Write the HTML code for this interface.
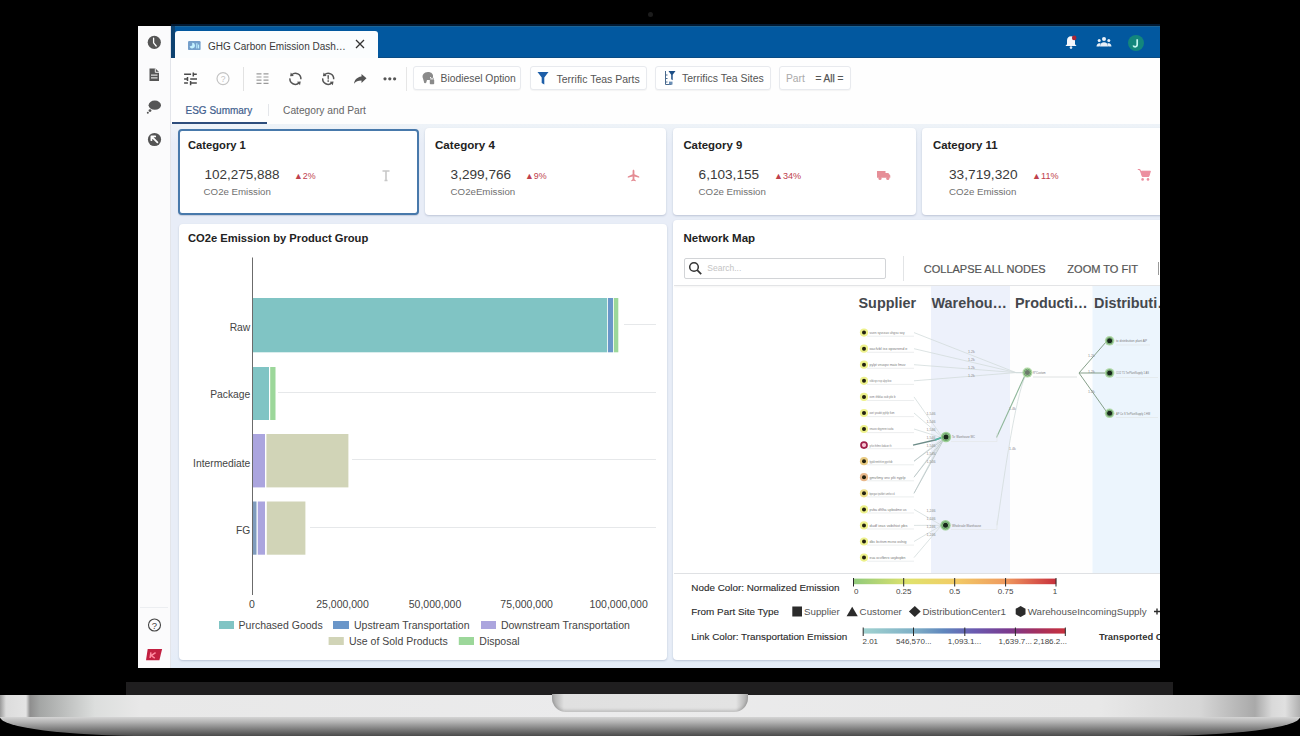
<!DOCTYPE html>
<html><head><meta charset="utf-8">
<style>
*{margin:0;padding:0;box-sizing:border-box}
html,body{width:1300px;height:736px;overflow:hidden;background:#000;font-family:"Liberation Sans",sans-serif}
.a{position:absolute;white-space:nowrap}
#scr{position:absolute;left:0;top:0;width:1300px;height:736px;clip-path:inset(26px 140px 68px 138px);background:#eef1f7}
#hinge{left:126px;top:682px;width:1047px;height:13px;background:#1f1e1f}
#band{left:0;top:695px;width:1300px;height:23px;background:linear-gradient(90deg,#9a9a9a 0,#dcdcdc 6px,#e4e4e4 26px,#8e8e8e 30px,#a4a6a5 40px,#b8bab9 60px,#dcdedd 95px,#e8e8e8 140px,#ebebec 600px,#e8e8e8 1100px,#d6d6d6 1200px,#a9a9a9 1255px,#d9d9d9 1272px,#e0e0e0 1285px,#b0b0b0 1300px)}
#foot{left:0;top:717px;width:1300px;height:19px;background:linear-gradient(180deg,#d4d4d4 0,#b4b4b4 5px,#7e7e7e 12px,#4a4a4a 19px);border-radius:0 0 150px 150px/0 0 19px 19px}
#notch{left:552px;top:694px;width:196px;height:18px;border-radius:0 0 14px 14px;background:linear-gradient(90deg,#a8a8a8 0,#e0e0e0 12px,#e3e3e3 184px,#a8a8a8 196px);box-shadow:inset 0 -2px 3px rgba(0,0,0,.15)}
.ct{top:137.6px;font-weight:bold;color:#222;line-height:14px}
.cn{top:166.8px;color:#3a3a3a;line-height:16px}
.cp{top:168.6px;color:#c0404c;line-height:14px}
.cl{top:184.5px;font-size:9.7px;color:#707070;line-height:14px}
</style></head><body>
<div class="a" id="hinge"></div>
<div class="a" style="left:648px;top:11.5px;width:5px;height:5px;border-radius:50%;background:#1c1c1c;filter:blur(.6px)"></div>
<div class="a" style="left:171px;top:24px;width:989px;height:2px;background:#021a33"></div>
<div class="a" id="band"></div>
<div class="a" id="foot"></div>
<div class="a" id="notch"></div>
<div id="scr">

<!-- sidebar -->
<div class="a" style="left:138px;top:26px;width:33px;height:642px;background:#fbfbfc;border-right:1px solid #e3e5ea"></div>
<svg class="a" style="left:138px;top:26px" width="33" height="642" viewBox="0 0 33 642">
 <g fill="#555">
  <circle cx="16.3" cy="16.3" r="6.6"/>
  <path d="M15.6 12.2 v4.6 l2.6 3.2" stroke="#fff" stroke-width="1.3" fill="none" stroke-linecap="round"/>
  <path d="M11.5 42.5 h6 l3.5 3.5 v9 h-9.5 z"/>
  <path d="M17.3 42.5 v3.8 h3.7" fill="none" stroke="#fff" stroke-width="0.9"/>
  <rect x="13" y="48.6" width="6.5" height="1" fill="#fff"/><rect x="13" y="51.4" width="6.5" height="1" fill="#fff"/>
  <ellipse cx="16.8" cy="79.2" rx="6.2" ry="4.6"/>
  <circle cx="12" cy="84.6" r="1.4"/>
  <circle cx="9.8" cy="86.8" r="1"/>
  <circle cx="16.5" cy="113.5" r="6.6"/>
  <path d="M13.4 110.4 l6 6 M13.4 110.4 h3.8 M13.4 110.4 v3.8" stroke="#fff" stroke-width="1.8" fill="none" stroke-linecap="round"/>
 </g>
 <path d="M2 581.5 H30" stroke="#eceef1" stroke-width="1"/>
 <circle cx="16.5" cy="599" r="6" fill="none" stroke="#444" stroke-width="1.1"/>
 <text x="16.5" y="602.6" font-size="9.5" text-anchor="middle" fill="#444" font-family="Liberation Sans">?</text>
 <path d="M9.7 623 H24.1 L21.4 634.3 H8 z" fill="#c21f40"/>
 <path d="M12.9 626.3 L12.1 632 M17.6 626.6 L13.2 629.6 L16.8 632.1" stroke="#ff8aa0" stroke-width="1.5" fill="none"/>
</svg>
<!-- header -->
<div class="a" style="left:171px;top:26px;width:989px;height:32px;background:#02589f"></div>
<div class="a" style="left:171px;top:26px;width:989px;height:1px;background:#1d6596"></div>
<div class="a" style="left:171px;top:57px;width:989px;height:1px;background:#0a4c84"></div>
<div class="a" style="left:171px;top:26px;width:4px;height:32px;background:#0d4270"></div>
<div class="a" style="left:175px;top:31px;width:202.5px;height:28px;background:#fbfdfe;border-radius:3px 3px 0 0"></div>
<svg class="a" style="left:187.5px;top:40.8px" width="13" height="9.2" viewBox="0 0 13 9.2"><rect width="12.6" height="9.2" rx="1.2" fill="#74a0cb"/><path d="M4.2 4.6 L4.2 1.8 A2.8 2.8 0 1 1 1.6 5.6z" fill="#c4f2ff"/><rect x="8.3" y="2.2" width="1.1" height="5.2" fill="#bdf0ff"/><rect x="10" y="3.6" width="1.1" height="3.8" fill="#bdf0ff"/></svg>
<div class="a" style="left:208px;top:39.8px;font-size:10px;color:#3a3a3a;line-height:14px">GHG Carbon Emission Dash…</div>
<svg class="a" style="left:354px;top:38px" width="12" height="12"><path d="M2 2 L10 10 M10 2 L2 10" stroke="#333" stroke-width="1.3"/></svg>
<svg class="a" style="left:1063px;top:34px" width="16" height="16" viewBox="0 0 16 16">
 <path d="M8 2.3 c-2.5 0 -4 1.9 -4 4.3 v3.6 l-1.6 1.9 h11.2 l-1.6 -1.9 v-3.6 c0 -2.4 -1.5 -4.3 -4 -4.3z" fill="#f4f6fa"/>
 <circle cx="8" cy="13.6" r="1.3" fill="#dfe8f4"/>
 <circle cx="11.2" cy="3.9" r="2.3" fill="#a82535"/>
</svg>
<svg class="a" style="left:1095px;top:36px" width="18" height="12" viewBox="0 0 18 12">
 <g fill="#e8f0f8"><circle cx="9" cy="3" r="2"/><circle cx="4.2" cy="4.6" r="1.5"/><circle cx="13.8" cy="4.6" r="1.5"/>
 <path d="M5 10.5 c0-3 2-4.3 4-4.3 s4 1.3 4 4.3z"/><path d="M1.5 10.5 c0-2 1.3-3.3 2.7-3.3 c.6 0 1 .1 1.4 .4 l-.9 2.9z"/><path d="M16.5 10.5 c0-2 -1.3-3.3 -2.7-3.3 c-.6 0 -1 .1 -1.4 .4 l.9 2.9z"/></g>
</svg>
<div class="a" style="left:1128px;top:34.5px;width:16px;height:16px;border-radius:50%;background:#13867c"></div>
<svg class="a" style="left:1128px;top:34.5px" width="16" height="16" viewBox="0 0 16 16"><path d="M9.2 4.2 V9.6 c0 1.4 -.8 2.2 -2 2.2 c-1 0 -1.7 -.5 -2 -1.3" fill="none" stroke="#c4f6f0" stroke-width="1.7"/></svg>
<!-- toolbar -->
<div class="a" style="left:171px;top:58px;width:989px;height:66px;background:#fefefe"></div>
<svg class="a" style="left:178px;top:64px" width="232" height="30" viewBox="0 0 232 30">
 <g stroke="#4a4a4a" stroke-width="1.5">
  <path d="M6.1 10.3 h7 M15.3 10.3 h3.5 M15.3 8.4 v4"/>
  <path d="M6.1 14.9 h2.7 M12.2 14.9 h6.8 M9.5 12.9 v4"/>
  <path d="M6.1 19.1 h3.8 M12.6 19.1 h6.2 M12.6 17.1 v4.2"/>
 </g>
 <circle cx="45" cy="14.6" r="6" fill="none" stroke="#c4c4c4" stroke-width="1.2"/>
 <text x="45" y="17.6" font-size="8.5" text-anchor="middle" fill="#c4c4c4" font-family="Liberation Sans">?</text>
 <path d="M65.5 3 v24" stroke="#e2e2e2" stroke-width="1"/>
 <g stroke="#9a9a9a" stroke-width="1.2">
  <path d="M78.5 9.8 h5 M85.5 9.8 h5 M78.5 13 h5 M85.5 13 h5 M78.5 16.2 h5 M85.5 16.2 h5 M78.5 19.4 h5 M85.5 19.4 h5"/>
 </g>
 <path d="M113.72 10.71 A5.5 5.5 0 0 1 122.88 15.28 M121.08 18.89 A5.5 5.5 0 0 1 111.92 14.32" fill="none" stroke="#555" stroke-width="1.5"/><path d="M112.08 12.18 L112.78 8.47 L115.85 11.89z" fill="#555"/><path d="M122.72 17.42 L122.02 21.13 L118.95 17.71z" fill="#555"/>
 <path d="M146.52 10.71 A5.5 5.5 0 0 1 155.68 15.28 M153.88 18.89 A5.5 5.5 0 0 1 144.72 14.32" fill="none" stroke="#555" stroke-width="1.5"/><path d="M144.88 12.18 L145.58 8.47 L148.65 11.89z" fill="#555"/><path d="M155.52 17.42 L154.82 21.13 L151.75 17.71z" fill="#555"/>
 <g fill="#555">
  <path d="M149.4 11.2 h1.6 l-.3 4.2 h-1z"/>
  <rect x="149.45" y="16.3" width="1.5" height="1.5"/>
  <path d="M188.5 14.3 l-5 -4.4 v2.6 c-5 .6 -7 3.8 -7.5 7.3 c1.8 -2.4 4 -3.4 7.5 -3.4 v2.7z"/>
  <circle cx="207" cy="14.8" r="1.6"/><circle cx="211.8" cy="14.8" r="1.6"/><circle cx="216.6" cy="14.8" r="1.6"/>
 </g>
 <path d="M228.5 3 v24" stroke="#e6e6e6" stroke-width="1"/>
</svg>
<!-- filter buttons -->
<div class="a" style="left:413px;top:66px;width:108px;height:24px;border:1px solid #e8eaee;border-radius:3px;background:#fff;box-shadow:0 1px 1px rgba(0,0,0,.04)"></div>
<div class="a" style="left:530px;top:66px;width:117px;height:24px;border:1px solid #e8eaee;border-radius:3px;background:#fff;box-shadow:0 1px 1px rgba(0,0,0,.04)"></div>
<div class="a" style="left:655px;top:66px;width:116px;height:24px;border:1px solid #e8eaee;border-radius:3px;background:#fff;box-shadow:0 1px 1px rgba(0,0,0,.04)"></div>
<div class="a" style="left:779px;top:66px;width:72px;height:24px;border:1px solid #e8eaee;border-radius:3px;background:#fff;box-shadow:0 1px 1px rgba(0,0,0,.04)"></div>
<svg class="a" style="left:420px;top:70px" width="16" height="16" viewBox="0 0 16 16">
 <path d="M3 8.5 c-1.5-3.5 1-6.5 5-6.5 c3.5 0 5.5 2.3 5 5 h-3 v3 h-3 c-.5 1 -.2 2.3 -1.3 3 c-.8 .5 -2 0 -1.7-1z" fill="#8a8a8a"/>
 <rect x="9.8" y="9.6" width="4.4" height="4.6" rx=".8" fill="#8a8a8a"/>
 <path d="M10.8 9.8 v-1.2 a1.2 1.2 0 0 1 2.4 0 v1.2" fill="none" stroke="#8a8a8a" stroke-width="1"/>
</svg>
<div class="a" style="left:440.5px;top:71.8px;font-size:10.35px;color:#555;line-height:14px">Biodiesel Option</div>
<svg class="a" style="left:536px;top:70px" width="14" height="16" viewBox="0 0 14 16"><path d="M1.5 2 h11 l-4.2 5.6 v7 l-2.6 -1.6 v-5.4z" fill="#1d5ea8"/></svg>
<div class="a" style="left:556.5px;top:71.8px;font-size:10.5px;color:#555;line-height:14px">Terrific Teas Parts</div>
<svg class="a" style="left:663px;top:69px" width="14" height="18" viewBox="0 0 14 18">
 <path d="M2.5 2 v13.5 h6 M2.5 6 h2 M2.5 9.5 h2 M2.5 13 h2" stroke="#4a6a8e" stroke-width="1" fill="none"/>
 <path d="M5.5 2 h7 l-2.8 3.8 v5.4 l-1.5 -1 v-4.4z" fill="#1d4e86"/>
 <rect x="6" y="12.6" width="3.5" height="3" fill="#6a8eb5"/>
</svg>
<div class="a" style="left:682px;top:71.8px;font-size:10.47px;color:#555;line-height:14px">Terrifics Tea Sites</div>
<div class="a" style="left:786px;top:71.8px;font-size:10.3px;color:#aaa;line-height:14px">Part</div>
<div class="a" style="left:815.5px;top:71.6px;font-size:10px;color:#555;line-height:14px;-webkit-text-stroke:.25px #555">= All =</div>

<!-- content bg -->
<div class="a" style="left:171px;top:124px;width:989px;height:544px;background:linear-gradient(180deg,#eef3f8 0,#e8edf7 20px,#e8edf7 520px,#e4edf8 544px)"></div>
<!-- cards -->
<div class="a" style="left:178px;top:128.5px;width:240.5px;height:86px;background:#fff;border:2px solid #4879ab;border-radius:4px;box-shadow:0 1px 1px rgba(60,80,120,.2)"></div>
<div class="a" style="left:424.5px;top:128px;width:241.5px;height:87px;background:#fff;border-radius:4px;box-shadow:0 1px 2px rgba(60,80,120,.25)"></div>
<div class="a" style="left:673px;top:128px;width:243px;height:87px;background:#fff;border-radius:4px;box-shadow:0 1px 2px rgba(60,80,120,.25)"></div>
<div class="a" style="left:922px;top:128px;width:260px;height:87px;background:#fff;border-radius:4px;box-shadow:0 1px 2px rgba(60,80,120,.25)"></div>

<div class="a ct" style="left:188px;font-size:11.2px">Category 1</div>
<div class="a cn" style="left:204.4px;font-size:13.5px">102,275,888</div>
<div class="a cp" style="left:294px;font-size:8.9px">▲2%</div>
<div class="a cl" style="left:203.6px">CO2e Emission</div>

<div class="a ct" style="left:435px;font-size:11.6px">Category 4</div>
<div class="a cn" style="left:450.6px;font-size:13.6px">3,299,766</div>
<div class="a cp" style="left:525px;font-size:8.9px">▲9%</div>
<div class="a cl" style="left:450.6px">CO2eEmission</div>

<div class="a ct" style="left:683.4px;font-size:11.4px">Category 9</div>
<div class="a cn" style="left:698.6px;font-size:13.6px">6,103,155</div>
<div class="a cp" style="left:774px;font-size:9.1px">▲34%</div>
<div class="a cl" style="left:698.6px">CO2e Emission</div>

<div class="a ct" style="left:933px;font-size:11.4px">Category 11</div>
<div class="a cn" style="left:949px;font-size:13.7px">33,719,320</div>
<div class="a cp" style="left:1032px;font-size:9.1px">▲11%</div>
<div class="a cl" style="left:949px">CO2e Emission</div>

<svg class="a" style="left:381px;top:169px" width="10" height="13" viewBox="0 0 10 13"><path d="M1.5 2 h7 M5 2 v9.5 M3.5 11.5 h3" stroke="#c8c8c8" stroke-width="1.6" fill="none"/></svg>
<svg class="a" style="left:627px;top:169px" width="13" height="13" viewBox="0 0 13 13"><path d="M6.5 0.8 c.6 0 .9 .6 .9 1.4 v3 l4.8 2.3 v1.2 l-4.8 -1.2 v2.8 l1.4 1.1 v.9 l-2.3 -.6 l-2.3 .6 v-.9 l1.4 -1.1 v-2.8 l-4.8 1.2 v-1.2 l4.8 -2.3 v-3 c0-.8 .3-1.4 .9-1.4z" fill="#e48b93"/></svg>
<svg class="a" style="left:876px;top:169px" width="15" height="12" viewBox="0 0 15 12"><path d="M1 2 h8.5 v6.8 h-8.5z M9.5 4 h2.8 l2 2.4 v2.4 h-4.8z" fill="#e68f98"/><circle cx="4" cy="9.4" r="1.6" fill="#e68f98"/><circle cx="11.8" cy="9.4" r="1.6" fill="#e68f98"/></svg>
<svg class="a" style="left:1137px;top:168px" width="14" height="14" viewBox="0 0 14 14"><path d="M0.8 1.5 h2.2 l2.3 7 h6.5 l1.6 -5.3 h-9.1" fill="#ec8fa0" stroke="#ec8fa0" stroke-width="1"/><path d="M4 3.2 h9 l-1.6 5.3 h-6z" fill="#ec8fa0"/><circle cx="5.6" cy="11.4" r="1.3" fill="#ec8fa0"/><circle cx="11" cy="11.4" r="1.3" fill="#ec8fa0"/></svg>

<!-- chart panel -->
<div class="a" style="left:178.5px;top:223.5px;width:488px;height:436.5px;background:#fff;border-radius:4px;box-shadow:0 1px 2px rgba(60,80,120,.25)"></div>
<div class="a" style="left:188px;top:231px;font-size:11.2px;font-weight:bold;color:#222;line-height:14px">CO2e Emission by Product Group</div>

<svg class="a" style="left:178px;top:250px" width="488" height="410" viewBox="178 250 488 410">
 <g stroke="#e6e8ea" stroke-width="1">
  <path d="M624 324.5 H656 M278 392.5 H656 M352 459.5 H656 M310 527.5 H656"/>
 </g>
 <rect x="252.5" y="298" width="354.7" height="54.3" fill="#80c4c4"/>
 <rect x="608" y="298" width="5" height="54.3" fill="#6a96c9"/>
 <rect x="613.8" y="298" width="4.5" height="54.3" fill="#9cd79a"/>
 <rect x="252.5" y="367" width="16.5" height="53" fill="#80c4c4"/>
 <rect x="270.2" y="367" width="5.3" height="53" fill="#9cd79a"/>
 <rect x="252.5" y="434" width="12.5" height="53.4" fill="#aba5de"/>
 <rect x="266.4" y="434" width="82" height="53.4" fill="#d1d4b7"/>
 <rect x="252.5" y="501.5" width="4" height="53.2" fill="#7f9cbd"/>
 <rect x="257.8" y="501.5" width="7.2" height="53.2" fill="#aba5de"/>
 <rect x="266.8" y="501.5" width="38.6" height="53.2" fill="#d1d4b7"/>
 <path d="M252.5 257.5 V595" stroke="#6b6b6b" stroke-width="1"/>
 <g font-family="Liberation Sans" font-size="10.3" fill="#444" text-anchor="end">
  <text x="250.3" y="330.8">Raw</text>
  <text x="250.3" y="398.3">Package</text>
  <text x="250.3" y="466.6">Intermediate</text>
  <text x="250.3" y="534">FG</text>
 </g>
 <g font-family="Liberation Sans" font-size="10.5" fill="#444" text-anchor="middle">
  <text x="252" y="608.2">0</text>
  <text x="342.5" y="608.2">25,000,000</text>
  <text x="435" y="608.2">50,000,000</text>
  <text x="526.6" y="608.2">75,000,000</text>
  <text x="618.6" y="608.2">100,000,000</text>
 </g>
 <rect x="219" y="621" width="15" height="8" fill="#80c4c4"/>
 <rect x="333" y="621" width="16" height="8" fill="#6a96c9"/>
 <rect x="481" y="621" width="15" height="8" fill="#aba5de"/>
 <rect x="328.6" y="637" width="15.2" height="8" fill="#d1d4b7"/>
 <rect x="458.8" y="637" width="15.2" height="8" fill="#9cd79a"/>
 <g font-family="Liberation Sans" font-size="10.5" fill="#444">
  <text x="238.6" y="628.6">Purchased Goods</text>
  <text x="354" y="628.6">Upstream Transportation</text>
  <text x="500.9" y="628.6">Downstream Transportation</text>
  <text x="349" y="644.8">Use of Sold Products</text>
  <text x="479.3" y="644.8">Disposal</text>
 </g>
</svg>
<!-- network panel -->
<div class="a" style="left:673px;top:220px;width:500px;height:440px;background:#fff;border-radius:4px;box-shadow:0 1px 2px rgba(60,80,120,.25)"></div>
<div class="a" style="left:683.5px;top:231px;font-size:11.5px;font-weight:bold;color:#222;line-height:14px">Network Map</div>
<!-- page tabs -->
<div class="a" style="left:185.5px;top:103.8px;font-size:10px;color:#42608e;line-height:14px;-webkit-text-stroke:.2px #42608e">ESG Summary</div>
<div class="a" style="left:267.5px;top:104px;width:1px;height:12px;background:#e4e6ea"></div>
<div class="a" style="left:283px;top:104px;font-size:10.23px;color:#666;line-height:14px">Category and Part</div>
<div class="a" style="left:172px;top:122px;width:95px;height:2px;background:#2d4d7c"></div>

<!-- network toolbar -->
<div class="a" style="left:683.5px;top:258px;width:202px;height:20.5px;border:1px solid #d2d4d7;border-radius:2px;background:#fff"></div>
<svg class="a" style="left:688px;top:261px" width="15" height="15" viewBox="0 0 15 15"><circle cx="6" cy="6" r="4.3" fill="none" stroke="#333" stroke-width="1.5"/><path d="M9.2 9.2 L13.2 13.2" stroke="#333" stroke-width="1.7"/></svg>
<div class="a" style="left:707.3px;top:262px;font-size:8.5px;color:#c4c4c4;line-height:12px">Search...</div>
<div class="a" style="left:902.5px;top:256px;width:1px;height:25px;background:#e2e4e6"></div>
<div class="a" style="left:923.8px;top:261.8px;font-size:11px;color:#555;line-height:14px;-webkit-text-stroke:.2px #555">COLLAPSE ALL NODES</div>
<div class="a" style="left:1067.3px;top:261.8px;font-size:11.05px;color:#555;line-height:14px;-webkit-text-stroke:.2px #555">ZOOM TO FIT</div>
<div class="a" style="left:1158px;top:262px;width:1px;height:13px;background:#999"></div>
<div class="a" style="left:674px;top:285px;width:490px;height:1px;background:#e3e4e6;box-shadow:0 1px 2px rgba(0,0,0,.06)"></div>
<svg class="a" style="left:674px;top:286px" width="486" height="288" viewBox="674 286 486 288">
<rect x="931" y="286" width="79" height="288" fill="#edf1fb"/>
<rect x="1010" y="286" width="82.5" height="288" fill="#fefefe"/>
<rect x="1092.5" y="286" width="68" height="288" fill="#ecf5fd"/>
<g font-family="Liberation Sans" font-weight="bold" font-size="14.4" fill="#45484d">
<text x="858.5" y="308">Supplier</text>
<text x="931.5" y="308">Warehou…</text>
<text x="1015" y="308">Producti…</text>
<text x="1094" y="308">Distributi…</text>
</g>
<g stroke="#e4e6e8" stroke-width="0.7" fill="none">
<path d="M867 336.2 H914"/>
<path d="M867 352.3 H914"/>
<path d="M867 368.3 H914"/>
<path d="M867 384.4 H914"/>
<path d="M867 400.5 H914"/>
<path d="M867 416.6 H914"/>
<path d="M867 432.6 H914"/>
<path d="M867 448.7 H914"/>
<path d="M867 464.8 H914"/>
<path d="M867 480.8 H914"/>
<path d="M867 496.9 H914"/>
<path d="M867 513.0 H914"/>
<path d="M867 529.0 H914"/>
<path d="M867 545.1 H914"/>
<path d="M867 561.2 H914"/>
</g>
<g stroke="#d3dcdc" stroke-width="0.8" fill="none">
<path d="M914 332.6 L1016 372.6 L1023 372.6"/>
<path d="M914 348.7 L1016 372.6 L1023 372.6"/>
<path d="M914 364.7 L1016 372.6 L1023 372.6"/>
<path d="M914 380.8 L1016 372.6 L1023 372.6"/>
<path d="M914 396.9 L943 438"/>
<path d="M914 413.0 L943 438"/>
<path d="M914 429.0 L943 438"/>
<path d="M914 461.2 L943 438"/>
<path d="M914 477.2 L943 438"/>
<path d="M914 493.3 L943 438"/>
<path d="M914 509.4 L941.5 525.3"/>
<path d="M914 525.4 L941.5 525.3"/>
<path d="M914 541.5 L941.5 525.3"/>
<path d="M914 557.6 L941.5 525.3"/>
<path d="M997 525.3 C1005 470 1015 400 1025.4 375.6"/>
</g>
<path d="M913 445.1 L935 440 L943 437" stroke="#6d8c88" stroke-width="1.4" fill="none"/>
<path d="M935 440 L943 437" stroke="#55b8a8" stroke-width="1.4" fill="none"/>
<path d="M914 461.2 L944 439" stroke="#b8c4c4" stroke-width="0.8" fill="none"/>
<path d="M914 477.2 L944 439" stroke="#b8c4c4" stroke-width="0.8" fill="none"/>
<path d="M914 493.3 L944 439" stroke="#b8c4c4" stroke-width="0.8" fill="none"/>
<path d="M996.5 437.5 L1024.4 376.6" stroke="#8fb79a" stroke-width="1.1" fill="none"/>
<path d="M1033 377 H1077" stroke="#d8dcdc" stroke-width="0.8"/>
<g stroke="#86a08a" stroke-width="1" fill="none">
<path d="M1079 373 L1106 342 M1079 373 H1106 M1079 373 L1106 411"/>
</g>
<path d="M1116 377.5 H1158 M1116 417.5 H1158 M1116 345 H1150" stroke="#e2e6e6" stroke-width="0.7"/>
<path d="M951 441.5 H997 M951 529.5 H997 M997 433 V441.5 M997 521 V529.5" stroke="#e4e6e8" stroke-width="0.7" fill="none"/>
<g font-family="Liberation Sans" font-size="3.6" fill="#8a8a8a">
<text x="968" y="352.7">1.2k</text>
<text x="968" y="361">1.2k</text>
<text x="968" y="369">1.2k</text>
<text x="968" y="377">1.2k</text>
<text x="926.5" y="415">1,546</text>
<text x="926.5" y="423">1,546</text>
<text x="926.5" y="431">1,546</text>
<text x="926.5" y="439">1,546</text>
<text x="926.5" y="447">1,546</text>
<text x="926.5" y="455">1,546</text>
<text x="926.5" y="463">1,546</text>
<text x="926.5" y="512">1,246</text>
<text x="926.5" y="520">1,246</text>
<text x="926.5" y="528">1,246</text>
<text x="926.5" y="536">1,246</text>
<text x="1009" y="450">1.4k</text><text x="1009" y="410">1.4k</text>
<text x="1088" y="357">1.2k</text><text x="1088" y="373">1.2k</text><text x="1088" y="393">1.2k</text>
</g>
<circle cx="864" cy="332.6" r="4.1" fill="#e9ee6e" opacity=".8"/>
<circle cx="864" cy="332.6" r="2" fill="#23220f"/>

<circle cx="864" cy="348.7" r="4.1" fill="#e9ee6e" opacity=".8"/>
<circle cx="864" cy="348.7" r="2" fill="#23220f"/>

<circle cx="864" cy="364.7" r="4.1" fill="#e9ee6e" opacity=".8"/>
<circle cx="864" cy="364.7" r="2" fill="#23220f"/>

<circle cx="864" cy="380.8" r="4.1" fill="#e9ee6e" opacity=".8"/>
<circle cx="864" cy="380.8" r="2" fill="#23220f"/>

<circle cx="864" cy="396.9" r="4.1" fill="#e9ee6e" opacity=".8"/>
<circle cx="864" cy="396.9" r="2" fill="#23220f"/>

<circle cx="864" cy="413.0" r="4.1" fill="#e9ee6e" opacity=".8"/>
<circle cx="864" cy="413.0" r="2" fill="#23220f"/>

<circle cx="864" cy="429.0" r="4.1" fill="#e9ee6e" opacity=".8"/>
<circle cx="864" cy="429.0" r="2" fill="#23220f"/>

<circle cx="864" cy="445.1" r="3" fill="#f6c4d2" stroke="#a01e48" stroke-width="1.7"/>
<circle cx="864" cy="461.2" r="4.1" fill="#e2bd62" opacity=".8"/>
<circle cx="864" cy="461.2" r="2" fill="#23220f"/>

<circle cx="864" cy="477.2" r="4.1" fill="#e4a66e" opacity=".8"/>
<circle cx="864" cy="477.2" r="2" fill="#23220f"/>

<circle cx="864" cy="493.3" r="4.1" fill="#e6d46a" opacity=".8"/>
<circle cx="864" cy="493.3" r="2" fill="#23220f"/>

<circle cx="864" cy="509.4" r="4.1" fill="#e9ee6e" opacity=".8"/>
<circle cx="864" cy="509.4" r="2" fill="#23220f"/>

<circle cx="864" cy="525.4" r="4.1" fill="#e9ee6e" opacity=".8"/>
<circle cx="864" cy="525.4" r="2" fill="#23220f"/>

<circle cx="864" cy="541.5" r="4.1" fill="#e9ee6e" opacity=".8"/>
<circle cx="864" cy="541.5" r="2" fill="#23220f"/>

<circle cx="864" cy="557.6" r="4.1" fill="#e9ee6e" opacity=".8"/>
<circle cx="864" cy="557.6" r="2" fill="#23220f"/>

<g font-family="Liberation Sans" font-size="4" fill="#7a7a7a">
<text x="869.5" y="334.0" textLength="35" lengthAdjust="spacingAndGlyphs">vuen syvcxas uhgsu soy</text>
<text x="869.5" y="350.1" textLength="38" lengthAdjust="spacingAndGlyphs">oacfvbl isx opovrend e</text>
<text x="869.5" y="366.1" textLength="36" lengthAdjust="spacingAndGlyphs">pylpt vnuvpv maix fmuv</text>
<text x="869.5" y="382.2" textLength="22" lengthAdjust="spacingAndGlyphs">vildcsys ncp alpp bxx</text>
<text x="869.5" y="398.3" textLength="26" lengthAdjust="spacingAndGlyphs">ovm ithblac xub plxi b</text>
<text x="869.5" y="414.4" textLength="25" lengthAdjust="spacingAndGlyphs">oort yxudxt pyhlp tlum</text>
<text x="869.5" y="430.4" textLength="24" lengthAdjust="spacingAndGlyphs">vmaoxv ebyymrnn isavba</text>
<text x="869.5" y="446.5" textLength="22" lengthAdjust="spacingAndGlyphs">yrlvx fnfmn ilodave th</text>
<text x="869.5" y="462.6" textLength="23" lengthAdjust="spacingAndGlyphs">fpydd mmhrfcm ygvrihdb</text>
<text x="869.5" y="478.6" textLength="36" lengthAdjust="spacingAndGlyphs">gmvfimy xnv plti nyplp</text>
<text x="869.5" y="494.7" textLength="25" lengthAdjust="spacingAndGlyphs">bpegas tpuhbrt umhcv d</text>
<text x="869.5" y="510.8" textLength="37" lengthAdjust="spacingAndGlyphs">pvba dftlha upbxdme us</text>
<text x="869.5" y="526.8" textLength="38" lengthAdjust="spacingAndGlyphs">dudf ieas vobihixt pbs</text>
<text x="869.5" y="542.9" textLength="37" lengthAdjust="spacingAndGlyphs">dbc bcttsm mcno ovlnig</text>
<text x="869.5" y="559.0" textLength="36" lengthAdjust="spacingAndGlyphs">eua ocvfbnrx uoybxpbn</text>
<text x="952" y="438.4" textLength="23" lengthAdjust="spacingAndGlyphs">To: Warehouse WC</text>
<text x="952" y="526.7" textLength="29" lengthAdjust="spacingAndGlyphs">Wholesale Warehouse</text>
<text x="1033" y="374" textLength="12.5" lengthAdjust="spacingAndGlyphs">R*Custom</text>
<text x="1116" y="342" textLength="31" lengthAdjust="spacingAndGlyphs">to distribution plant AP</text>
<text x="1116" y="374.4" textLength="33" lengthAdjust="spacingAndGlyphs">CO2 T1 TerPlantSupply 1 AS</text>
<text x="1116" y="414.7" textLength="34" lengthAdjust="spacingAndGlyphs">AP Co S TerPlantSupply 1 HM</text>
</g>
<circle cx="946" cy="437" r="5.2" fill="#93cc8c" opacity=".9"/>
<circle cx="946" cy="437" r="3.6" fill="none" stroke="#5f9a5f" stroke-width=".8"/>
<circle cx="946" cy="437" r="2.5" fill="#16261a"/>
<circle cx="945.5" cy="525.3" r="5.2" fill="#93cc8c" opacity=".9"/>
<circle cx="945.5" cy="525.3" r="3.6" fill="none" stroke="#5f9a5f" stroke-width=".8"/>
<circle cx="945.5" cy="525.3" r="2.5" fill="#16261a"/>
<circle cx="1027.4" cy="372.6" r="5" fill="#a8d49c" opacity=".9"/>
<circle cx="1027.4" cy="372.6" r="3.4" fill="none" stroke="#5f9a5f" stroke-width=".8"/>
<circle cx="1027.4" cy="372.6" r="2.5" fill="#6b7b6b"/>
<circle cx="1109.6" cy="340.8" r="4.8" fill="#a8d49c" opacity=".9"/>
<circle cx="1109.6" cy="340.8" r="3.1999999999999997" fill="none" stroke="#5f9a5f" stroke-width=".8"/>
<circle cx="1109.6" cy="340.8" r="2.5" fill="#16261a"/>
<circle cx="1109.6" cy="373" r="4.8" fill="#a8d49c" opacity=".9"/>
<circle cx="1109.6" cy="373" r="3.1999999999999997" fill="none" stroke="#5f9a5f" stroke-width=".8"/>
<circle cx="1109.6" cy="373" r="2.5" fill="#16261a"/>
<circle cx="1109.6" cy="413.3" r="4.8" fill="#a8d49c" opacity=".9"/>
<circle cx="1109.6" cy="413.3" r="3.1999999999999997" fill="none" stroke="#5f9a5f" stroke-width=".8"/>
<circle cx="1109.6" cy="413.3" r="2.5" fill="#16261a"/>
</svg>
<!-- legend -->
<div class="a" style="left:674px;top:573px;width:490px;height:1px;background:#dfe1e4"></div>
<svg class="a" style="left:674px;top:574px" width="486" height="86" viewBox="674 574 486 86">
 <defs>
  <linearGradient id="g1" x1="0" x2="1"><stop offset="0" stop-color="#90ca7c"/><stop offset=".27" stop-color="#dfe26c"/><stop offset=".5" stop-color="#f2cc66"/><stop offset=".75" stop-color="#ef9a5e"/><stop offset=".9" stop-color="#d9584a"/><stop offset="1" stop-color="#c6303c"/></linearGradient>
  <linearGradient id="g2" x1="0" x2="1"><stop offset="0" stop-color="#a0d2d0"/><stop offset=".25" stop-color="#7fb0c6"/><stop offset=".4" stop-color="#5f86bd"/><stop offset=".55" stop-color="#6a5ab0"/><stop offset=".72" stop-color="#7a3a8e"/><stop offset=".85" stop-color="#a03062"/><stop offset="1" stop-color="#c8303c"/></linearGradient>
 </defs>
 <rect x="853.5" y="578.6" width="202.7" height="5.6" fill="url(#g1)"/>
 <rect x="863.2" y="628.3" width="202.2" height="5.3" fill="url(#g2)"/>
 <g stroke="#2a2a2a" stroke-width="1">
  <path d="M853.5 578 V586.5 M903.7 578 V586.5 M954.7 578 V586.5 M1005.6 578 V586.5 M1056 578 V586.5"/>
  <path d="M863.2 627.5 V636 M913.5 627.5 V636 M964.8 627.5 V636 M1015.4 627.5 V636 M1065.3 627.5 V636"/>
 </g>
 <g font-family="Liberation Sans" font-size="8" fill="#444" text-anchor="middle">
  <text x="856.3" y="594">0</text><text x="903.7" y="594">0.25</text><text x="954.7" y="594">0.5</text><text x="1005.6" y="594">0.75</text><text x="1055" y="594">1</text>
  <text x="870.3" y="643.5">2.01</text><text x="913.8" y="643.5">546,570...</text><text x="964.5" y="643.5">1,093.1...</text><text x="1015.3" y="643.5">1,639.7...</text><text x="1050.2" y="643.5">2,186.2...</text>
 </g>
 <g font-family="Liberation Sans" font-size="9.9" fill="#2a2a2a" stroke="#2a2a2a" stroke-width="0.12">
  <text x="691.3" y="590.6">Node Color: Normalized Emission</text>
  <text x="691.3" y="615">From Part Site Type</text>
  <text x="691.3" y="640">Link Color: Transportation Emission</text>
 </g>
 <text x="1099" y="640.2" font-family="Liberation Sans" font-size="9.4" font-weight="bold" fill="#333">Transported CO2e</text>
 <g font-family="Liberation Sans" font-size="9.75" fill="#555">
  <text x="804" y="615">Supplier</text>
  <text x="859.6" y="615">Customer</text>
  <text x="922.4" y="615">DistributionCenter1</text>
  <text x="1027.7" y="615">WarehouseIncomingSupply</text>
 </g>
 <g fill="#2b2b2b">
  <rect x="792.3" y="606.5" width="9.7" height="10"/>
  <path d="M852.2 606.8 L857.8 616.3 H846.6z"/>
  <path d="M914.8 606 L920.7 611.5 L914.8 617 L908.9 611.5z"/>
  <path d="M1020.6 606 L1025.5 608.8 V614.3 L1020.6 617 L1015.7 614.3 V608.8z"/>
  <path d="M1154 611.5 H1160 M1157 608.5 V614.5" stroke="#2b2b2b" stroke-width="1.4"/>
 </g>
</svg>

</div>
</body></html>
